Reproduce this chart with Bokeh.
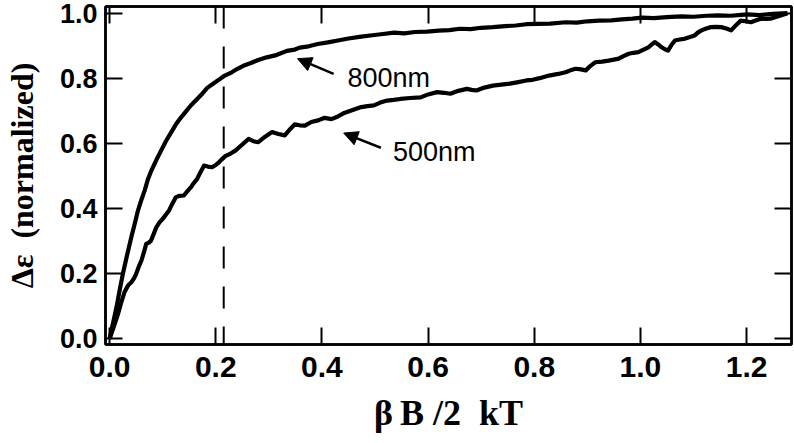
from bokeh.plotting import figure
from bokeh.models import (Range1d, FixedTicker, LinearAxis, Span, Label, Arrow,
                          NormalHead)
from bokeh.embed import file_html
from bokeh.resources import INLINE

# ---------------- data ----------------
x_800 = [0.0, 0.006, 0.013, 0.019, 0.025, 0.033, 0.041, 0.047, 0.053, 0.060,
         0.066, 0.072, 0.078, 0.088, 0.097, 0.106, 0.116, 0.125, 0.134, 0.144,
         0.153, 0.165, 0.175, 0.184, 0.195, 0.205, 0.215, 0.228, 0.240, 0.252,
         0.265, 0.280, 0.296, 0.312, 0.325, 0.334, 0.349, 0.358, 0.375, 0.392,
         0.411, 0.430, 0.450, 0.474, 0.495, 0.515, 0.536, 0.555, 0.575, 0.598,
         0.620, 0.640, 0.660, 0.680, 0.700, 0.722, 0.745, 0.765, 0.785, 0.805,
         0.830, 0.859, 0.880, 0.900, 0.922, 0.945, 0.965, 0.985, 1.003, 1.025,
         1.050, 1.077, 1.100, 1.125, 1.146, 1.170, 1.190, 1.202, 1.225, 1.250,
         1.277]
y_800 = [0.0, 0.045, 0.097, 0.150, 0.200, 0.258, 0.313, 0.352, 0.392, 0.428,
         0.456, 0.490, 0.515, 0.550, 0.579, 0.608, 0.635, 0.660, 0.680, 0.700,
         0.718, 0.738, 0.755, 0.772, 0.785, 0.796, 0.808, 0.818, 0.830, 0.840,
         0.848, 0.858, 0.866, 0.872, 0.880, 0.886, 0.890, 0.896, 0.900, 0.907,
         0.912, 0.918, 0.924, 0.930, 0.934, 0.938, 0.942, 0.940, 0.944, 0.945,
         0.948, 0.950, 0.954, 0.953, 0.957, 0.959, 0.962, 0.964, 0.968, 0.969,
         0.970, 0.974, 0.973, 0.977, 0.979, 0.980, 0.983, 0.985, 0.988, 0.987,
         0.990, 0.992, 0.991, 0.994, 0.995, 0.994, 0.997, 0.998, 0.996, 1.000,
         1.002]

x_500 = [0.0, 0.008, 0.016, 0.022, 0.028, 0.035, 0.041, 0.046, 0.050, 0.055,
         0.060, 0.065, 0.069, 0.074, 0.078, 0.083, 0.088, 0.094, 0.100, 0.106,
         0.112, 0.118, 0.125, 0.132, 0.140, 0.147, 0.153, 0.159, 0.165, 0.171,
         0.178, 0.185, 0.193, 0.200, 0.206, 0.212, 0.218, 0.228, 0.237, 0.250,
         0.262, 0.271, 0.280, 0.293, 0.306, 0.318, 0.330, 0.340, 0.349, 0.358,
         0.368, 0.380, 0.393, 0.405, 0.418, 0.430, 0.442, 0.458, 0.474, 0.486,
         0.498, 0.510, 0.523, 0.535, 0.548, 0.566, 0.586, 0.600, 0.617, 0.630,
         0.642, 0.657, 0.673, 0.682, 0.691, 0.706, 0.722, 0.738, 0.754, 0.770,
         0.785, 0.797, 0.810, 0.828, 0.845, 0.859, 0.868, 0.878, 0.888, 0.897,
         0.906, 0.915, 0.928, 0.940, 0.950, 0.959, 0.968, 0.978, 0.987, 0.996,
         1.006, 1.015, 1.021, 1.027, 1.034, 1.040, 1.046, 1.052, 1.058, 1.065,
         1.074, 1.083, 1.092, 1.102, 1.108, 1.115, 1.124, 1.133, 1.142, 1.152,
         1.162, 1.171, 1.180, 1.189, 1.198, 1.208, 1.218, 1.227, 1.236, 1.245,
         1.255, 1.264, 1.277]
y_500 = [0.0, 0.038, 0.077, 0.112, 0.143, 0.165, 0.174, 0.186, 0.200, 0.222,
         0.241, 0.268, 0.292, 0.296, 0.302, 0.322, 0.343, 0.358, 0.369, 0.382,
         0.395, 0.415, 0.436, 0.440, 0.441, 0.455, 0.466, 0.480, 0.492, 0.512,
         0.533, 0.530, 0.528, 0.535, 0.543, 0.553, 0.562, 0.570, 0.579, 0.598,
         0.615, 0.608, 0.605, 0.622, 0.636, 0.630, 0.626, 0.645, 0.660, 0.657,
         0.656, 0.667, 0.672, 0.680, 0.676, 0.684, 0.695, 0.704, 0.713, 0.716,
         0.718, 0.727, 0.733, 0.735, 0.738, 0.741, 0.743, 0.752, 0.759, 0.757,
         0.754, 0.763, 0.769, 0.766, 0.764, 0.773, 0.779, 0.782, 0.785, 0.790,
         0.795, 0.797, 0.802, 0.810, 0.815, 0.820, 0.826, 0.831, 0.829, 0.826,
         0.840, 0.851, 0.853, 0.856, 0.859, 0.862, 0.870, 0.877, 0.880, 0.882,
         0.890, 0.897, 0.905, 0.913, 0.905, 0.897, 0.891, 0.887, 0.903, 0.918,
         0.921, 0.923, 0.928, 0.933, 0.942, 0.949, 0.955, 0.959, 0.960, 0.959,
         0.955, 0.949, 0.965, 0.979, 0.977, 0.974, 0.980, 0.985, 0.984, 0.985,
         0.990, 0.995, 1.002]

marker_x = 0.215          # dashed reference line

x_ticks = [0.0, 0.2, 0.4, 0.6, 0.8, 1.0, 1.2]
x_tick_labels = ["0.0", "0.2", "0.4", "0.6", "0.8", "1.0", "1.2"]
y_ticks = [0.0, 0.2, 0.4, 0.6, 0.8, 1.0]
y_tick_labels = ["0.0", "0.2", "0.4", "0.6", "0.8", "1.0"]

series_labels = ["800nm", "500nm"]
x_title = "\u03b2\u2009B /2\u00a0\u00a0kT"
y_title = "\u0394\u03b5\u00a0\u00a0(normalized)"

# ---------------- figure ----------------
p = figure(width=794, height=443, output_backend="svg", toolbar_location=None,
           x_range=Range1d(-0.0077, 1.2846), y_range=Range1d(-0.0175, 1.0225),
           min_border_left=99, min_border_right=3, min_border_top=6,
           min_border_bottom=99)
p.xgrid.visible = False
p.ygrid.visible = False
p.background_fill_color = "white"
p.border_fill_color = "white"
p.outline_line_color = "black"
p.outline_line_width = 2.5

TICK_FONT = "Liberation Sans"
TITLE_FONT = "Liberation Serif"

def style_axis(ax, ticks, labels, show_labels):
    ax.ticker = FixedTicker(ticks=ticks)
    ax.minor_tick_line_color = None
    ax.major_tick_in = 17
    ax.major_tick_out = 0
    ax.major_tick_line_width = 2
    ax.major_tick_line_color = "black"
    ax.axis_line_width = 2.5
    ax.axis_line_color = "black"
    if show_labels:
        ax.major_label_overrides = dict(zip(ticks, labels))
        ax.major_label_text_font = TICK_FONT
        ax.major_label_text_font_style = "bold"
        ax.major_label_text_color = "black"
    else:
        ax.major_label_overrides = {t: "" for t in ticks}
        ax.major_label_text_font_size = "1px"
        ax.major_label_standoff = 0

xa = p.xaxis[0]
ya = p.yaxis[0]
style_axis(xa, x_ticks, x_tick_labels, True)
style_axis(ya, y_ticks, y_tick_labels, True)
xa.major_label_text_font_size = "30px"
ya.major_label_text_font_size = "27px"
xa.major_label_standoff = 12
ya.major_label_standoff = 8

xa.axis_label = x_title
xa.axis_label_text_font = TITLE_FONT
xa.axis_label_text_font_style = "bold"
xa.axis_label_text_font_size = "36px"
xa.axis_label_standoff = 13
xa.axis_label_text_color = "black"

ya.axis_label = y_title
ya.axis_label_text_font = TITLE_FONT
ya.axis_label_text_font_style = "bold"
ya.axis_label_text_font_size = "32px"
ya.axis_label_standoff = 17
ya.axis_label_text_color = "black"

top_axis = LinearAxis()
style_axis(top_axis, x_ticks, x_tick_labels, False)
p.add_layout(top_axis, "above")
right_axis = LinearAxis()
style_axis(right_axis, y_ticks, y_tick_labels, False)
p.add_layout(right_axis, "right")

# dashed reference line
p.add_layout(Span(location=marker_x, dimension="height", line_color="black",
                  line_width=2, line_dash="22 18"))

# curves
p.line(x_800, y_800, line_color="black", line_width=4.2, line_join="round")
p.line(x_500, y_500, line_color="black", line_width=4.2, line_join="round")

# annotations
label_pos = [(0.448, 0.804), (0.534, 0.574)]
arrow_pos = [((0.422, 0.815), (0.354, 0.862)), ((0.511, 0.588), (0.441, 0.633))]
for txt, (lx, ly), ((ax0, ay0), (ax1, ay1)) in zip(series_labels, label_pos, arrow_pos):
    p.add_layout(Label(x=lx, y=ly, text=txt, text_font=TICK_FONT,
                       text_font_size="27px", text_color="black",
                       text_baseline="alphabetic", text_align="left"))
    p.add_layout(Arrow(x_start=ax0, y_start=ay0, x_end=ax1, y_end=ay1,
                       line_color="black", line_width=2.5,
                       end=NormalHead(size=14, fill_color="black",
                                      line_color="black", line_width=1)))

open("out.html", "w").write(file_html(p, INLINE))
